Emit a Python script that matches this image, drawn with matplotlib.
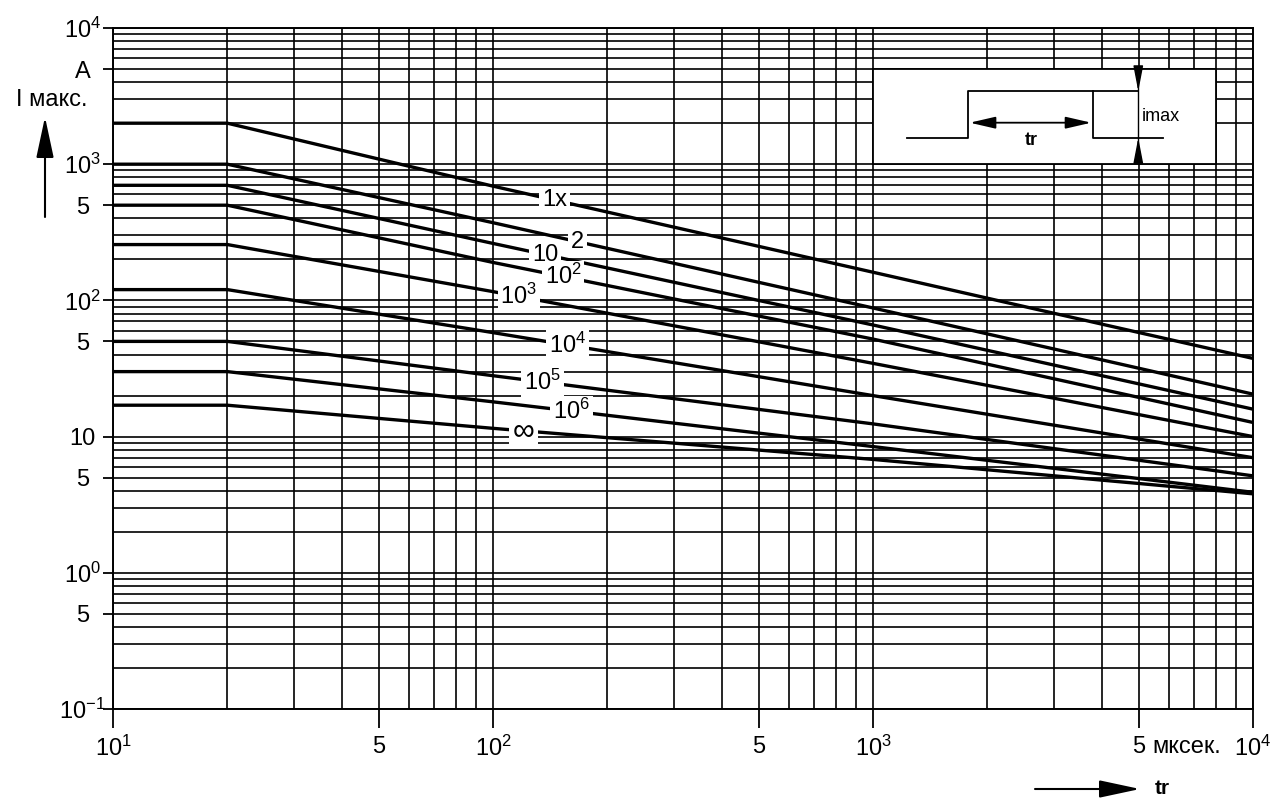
import numpy as np
import matplotlib.pyplot as plt
from matplotlib.ticker import FixedLocator, LogLocator, NullFormatter

plt.rcParams['font.family'] = ['Liberation Sans', 'DejaVu Sans']
plt.rcParams['mathtext.default'] = 'regular'

# pulse width tr (us) where the curves are read
tr = [10, 20, 100, 1000, 10000]

# max current (A) for each number of pulses
curve_names = ['1x', '2', '10', '$10^{2}$', '$10^{3}$', '$10^{4}$', '$10^{5}$', '$10^{6}$', '∞']
i_1x = [2000, 2000, 690, 161, 37.5]
i_2 = [1000, 1000, 372, 88, 20.5]
i_10 = [700, 700, 262, 66, 15.9]
i_1e2 = [500, 500, 190, 52, 12.7]
i_1e3 = [257, 257, 116, 34.5, 10.0]
i_1e4 = [120, 120, 58, 20.0, 7.0]
i_1e5 = [50, 50, 28, 12.4, 5.15]
i_1e6 = [30, 30, 18, 8.45, 3.9]
i_inf = [17, 17, 11.5, 6.8, 3.8]
curves = [i_1x, i_2, i_10, i_1e2, i_1e3, i_1e4, i_1e5, i_1e6, i_inf]

# where along tr the curve labels sit
label_tr = [145, 167, 137, 153, 117, 157, 135, 161, 120]

xticks = [10, 50, 100, 500, 1000, 5000, 10000]
xticklabels = ['$10^{1}$', '5', '$10^{2}$', '5', '$10^{3}$', '5', '$10^{4}$']
yticks = [0.1, 0.5, 1, 5, 10, 50, 100, 500, 1000, 5000, 10000]
yticklabels = ['$10^{-1}$', '5', '$10^{0}$', '5', '10', '5', '$10^{2}$', '5', '$10^{3}$', 'A', '$10^{4}$']

W, H = 1277, 798
fig = plt.figure(figsize=(W / 100, H / 100), dpi=100)
ax = fig.add_axes([113 / W, 1 - 709 / H, (1253 - 113) / W, (709 - 28) / H])
ax.set_xscale('log')
ax.set_yscale('log')
ax.set_xlim(10, 10000)
ax.set_ylim(0.1, 10000)

# grid paper
ax.xaxis.set_major_locator(FixedLocator(xticks))
ax.yaxis.set_major_locator(FixedLocator(yticks))
ax.xaxis.set_minor_locator(LogLocator(base=10, subs=np.arange(1, 10)))
ax.yaxis.set_minor_locator(LogLocator(base=10, subs=np.arange(1, 10)))
ax.xaxis.set_minor_formatter(NullFormatter())
ax.yaxis.set_minor_formatter(NullFormatter())
ax.grid(True, which='both', color='black', lw=1.2)
ax.set_axisbelow(True)
for s in ax.spines.values():
    s.set_linewidth(1.4)

ax.set_xticklabels(xticklabels)
ax.set_yticklabels(yticklabels)
ax.tick_params(which='minor', length=0)
ax.tick_params(axis='x', which='major', length=13.5, width=1.3, pad=6, labelsize=17)
ax.tick_params(axis='y', which='major', length=7, width=1.3, pad=15, labelsize=17)
for lab in ax.get_yticklabels():
    lab.set_ha('center')

# curves
for name, vals, lx in zip(curve_names, curves, label_tr):
    ax.plot(tr, vals, color='black', lw=2.4, zorder=3)
    ly = 10 ** np.interp(np.log10(lx), np.log10(tr), np.log10(vals))
    fs = 22 if name == '∞' else 17
    ax.text(lx, ly, name, fontsize=fs, ha='center', va='center', zorder=4,
            bbox=dict(boxstyle='square,pad=0.12', fc='white', ec='none'))

# unit after the 5000 tick
ax.annotate('мксек.', xy=(5000, 0), xycoords=('data', 'axes fraction'),
            xytext=(10, -19.5), textcoords='offset points',
            ha='left', va='top', fontsize=17)

# inset with pulse sketch
ins = ax.inset_axes([1000, 1000, 7000, 4000], transform=ax.transData)
ins.set_xlim(0, 1)
ins.set_ylim(0, 1)
ins.set_xticks([])
ins.set_yticks([])
ins.set_facecolor('white')
for s in ins.spines.values():
    s.set_linewidth(1.3)
ins.plot([0.10, 0.277, 0.277, 0.773], [0.277, 0.277, 0.766, 0.766], color='black', lw=1.3)
ins.plot([0.64, 0.64, 0.845], [0.766, 0.277, 0.277], color='black', lw=1.3)
ins.plot([0.773, 0.773], [0, 1], color='black', lw=1.0)
ins.annotate('', xy=(0.282, 0.436), xytext=(0.636, 0.436),
             arrowprops=dict(arrowstyle='<|-|>,head_length=1.3,head_width=0.3',
                             color='black', lw=1.3, mutation_scale=12, shrinkA=0, shrinkB=0))
ins.annotate('', xy=(0.773, 0.766), xytext=(0.773, 1.0),
             arrowprops=dict(arrowstyle='-|>,head_length=1.3,head_width=0.25',
                             color='black', lw=1.0, mutation_scale=12, shrinkA=0, shrinkB=0))
ins.annotate('', xy=(0.773, 0.277), xytext=(0.773, 0.0),
             arrowprops=dict(arrowstyle='-|>,head_length=1.3,head_width=0.25',
                             color='black', lw=1.0, mutation_scale=12, shrinkA=0, shrinkB=0))
ins.text(0.462, 0.25, 'tr', fontsize=13, fontweight='bold', ha='center', va='center')
ins.text(0.782, 0.5, 'imax', fontsize=13, ha='left', va='center')

# axis names with arrows
fig.text(52 / W, 1 - 100 / H, 'I макс.', fontsize=17, ha='center', va='center')
plt.annotate('', xy=(45 / W, 1 - 117 / H), xytext=(45 / W, 1 - 217 / H),
             xycoords='figure fraction',
             arrowprops=dict(arrowstyle='-|>,head_length=1.4,head_width=0.3',
                             color='black', lw=1.5, mutation_scale=18, shrinkA=0, shrinkB=0))
plt.annotate('', xy=(1140 / W, 1 - 789 / H), xytext=(1035 / W, 1 - 789 / H),
             xycoords='figure fraction',
             arrowprops=dict(arrowstyle='-|>,head_length=1.4,head_width=0.3',
                             color='black', lw=1.5, mutation_scale=18, shrinkA=0, shrinkB=0))
fig.text(1162 / W, 1 - 788 / H, 'tr', fontsize=15, fontweight='bold', ha='center', va='center')

fig.savefig('out.png', dpi=100)
